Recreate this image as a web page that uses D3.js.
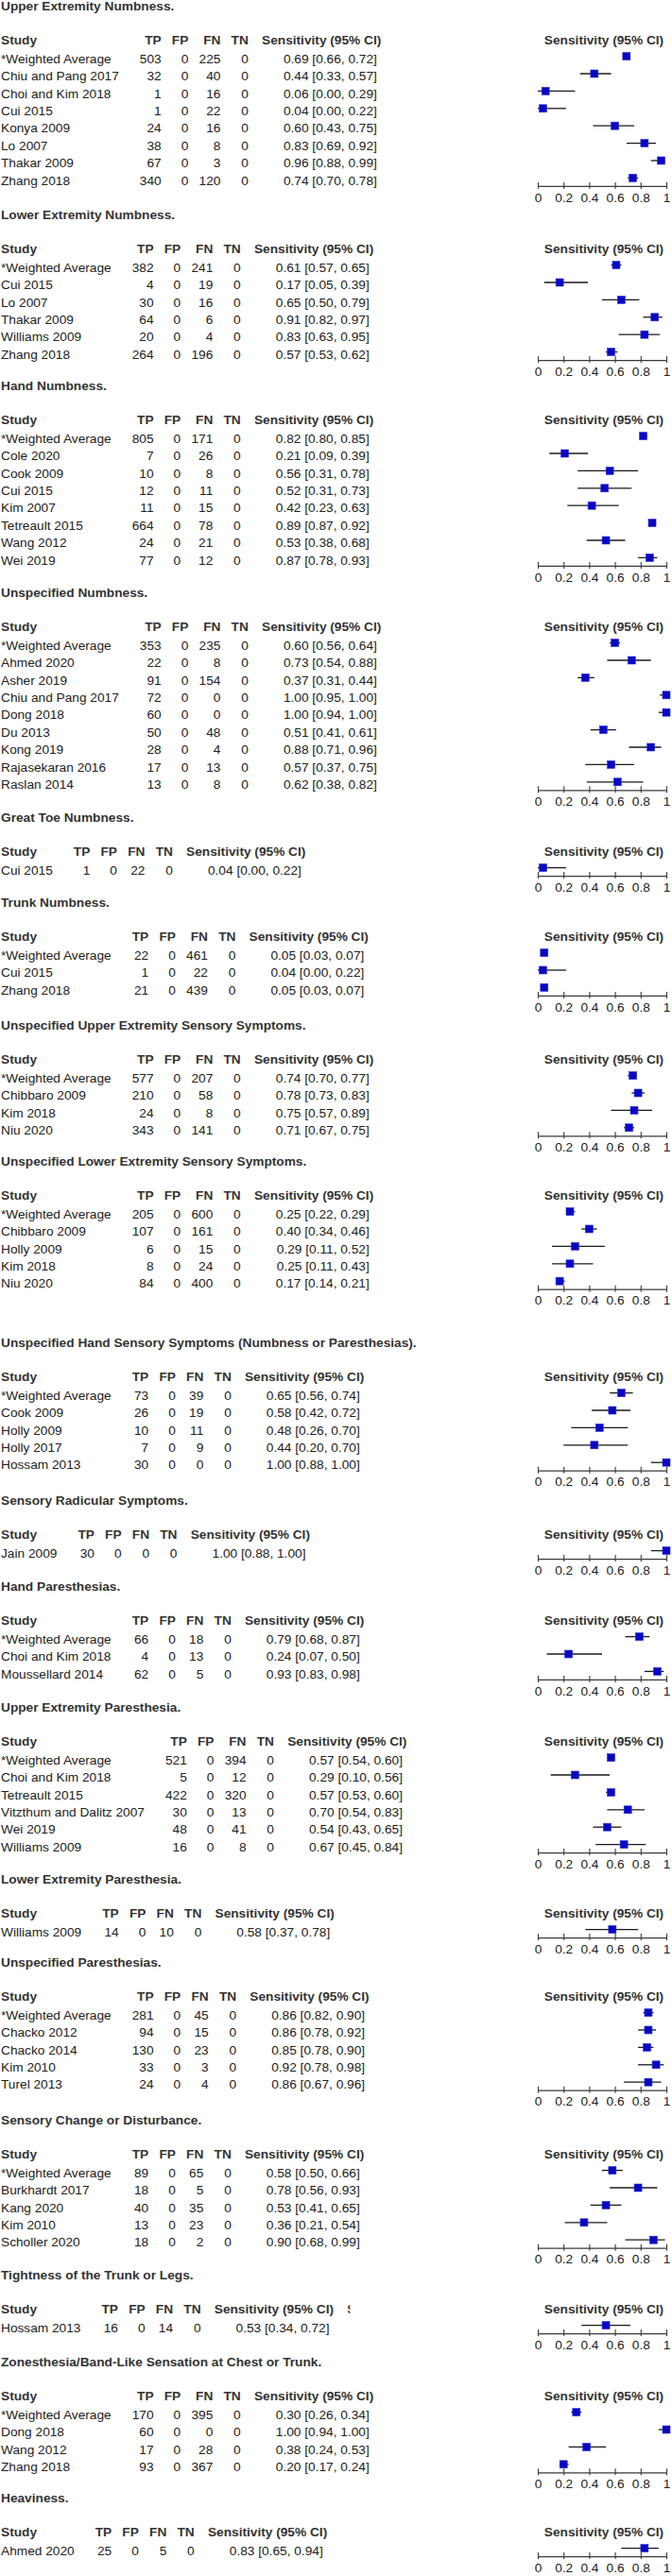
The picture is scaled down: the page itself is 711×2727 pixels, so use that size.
<!DOCTYPE html>
<html><head><meta charset="utf-8">
<script src="https://cdn.jsdelivr.net/npm/d3@7"></script>
<style>
html,body{margin:0;padding:0;background:#fff;}
svg text{font-family:"Liberation Sans",Arial,Helvetica,sans-serif;}
</style></head><body>
<svg id="chart" width="711" height="2727"></svg>
<script>
// ---------------- DATA ----------------
const panelTitles = [
  "Upper Extremity Numbness.",
  "Lower Extremity Numbness.",
  "Hand Numbness.",
  "Unspecified Numbness.",
  "Great Toe Numbness.",
  "Trunk Numbness.",
  "Unspecified Upper Extremity Sensory Symptoms.",
  "Unspecified Lower Extremity Sensory Symptoms.",
  "Unspecified Hand Sensory Symptoms (Numbness or Paresthesias).",
  "Sensory Radicular Symptoms.",
  "Hand Paresthesias.",
  "Upper Extremity Paresthesia.",
  "Lower Extremity Paresthesia.",
  "Unspecified Paresthesias.",
  "Sensory Change or Disturbance.",
  "Tightness of the Trunk or Legs.",
  "Zonesthesia/Band-Like Sensation at Chest or Trunk.",
  "Heaviness."
];
const panelSizes = [8, 6, 8, 9, 1, 3, 4, 5, 5, 1, 3, 6, 1, 5, 5, 1, 4, 1];

const studyNames = [
  "*Weighted Average","Chiu and Pang 2017","Choi and Kim 2018","Cui 2015","Konya 2009","Lo 2007","Thakar 2009","Zhang 2018",
  "*Weighted Average","Cui 2015","Lo 2007","Thakar 2009","Williams 2009","Zhang 2018",
  "*Weighted Average","Cole 2020","Cook 2009","Cui 2015","Kim 2007","Tetreault 2015","Wang 2012","Wei 2019",
  "*Weighted Average","Ahmed 2020","Asher 2019","Chiu and Pang 2017","Dong 2018","Du 2013","Kong 2019","Rajasekaran 2016","Raslan 2014",
  "Cui 2015",
  "*Weighted Average","Cui 2015","Zhang 2018",
  "*Weighted Average","Chibbaro 2009","Kim 2018","Niu 2020",
  "*Weighted Average","Chibbaro 2009","Holly 2009","Kim 2018","Niu 2020",
  "*Weighted Average","Cook 2009","Holly 2009","Holly 2017","Hossam 2013",
  "Jain 2009",
  "*Weighted Average","Choi and Kim 2018","Moussellard 2014",
  "*Weighted Average","Choi and Kim 2018","Tetreault 2015","Vitzthum and Dalitz 2007","Wei 2019","Williams 2009",
  "Williams 2009",
  "*Weighted Average","Chacko 2012","Chacko 2014","Kim 2010","Turel 2013",
  "*Weighted Average","Burkhardt 2017","Kang 2020","Kim 2010","Scholler 2020",
  "Hossam 2013",
  "*Weighted Average","Dong 2018","Wang 2012","Zhang 2018",
  "Ahmed 2020"
];
const tpValues = [
  503,32,1,1,24,38,67,340,
  382,4,30,64,20,264,
  805,7,10,12,11,664,24,77,
  353,22,91,72,60,50,28,17,13,
  1,
  22,1,21,
  577,210,24,343,
  205,107,6,8,84,
  73,26,10,7,30,
  30,
  66,4,62,
  521,5,422,30,48,16,
  14,
  281,94,130,33,24,
  89,18,40,13,18,
  16,
  170,60,17,93,
  25
];
const fpValues = tpValues.map(() => 0);
const fnValues = [
  225,40,16,22,16,8,3,120,
  241,19,16,6,4,196,
  171,26,8,11,15,78,21,12,
  235,8,154,0,0,48,4,13,8,
  22,
  461,22,439,
  207,58,8,141,
  600,161,15,24,400,
  39,19,11,9,0,
  0,
  18,13,5,
  394,12,320,13,41,8,
  10,
  45,15,23,3,4,
  65,5,35,23,2,
  14,
  395,0,28,367,
  5
];
const tnValues = tpValues.map(() => 0);
const sensValues = [
  0.69,0.44,0.06,0.04,0.60,0.83,0.96,0.74,
  0.61,0.17,0.65,0.91,0.83,0.57,
  0.82,0.21,0.56,0.52,0.42,0.89,0.53,0.87,
  0.60,0.73,0.37,1.00,1.00,0.51,0.88,0.57,0.62,
  0.04,
  0.05,0.04,0.05,
  0.74,0.78,0.75,0.71,
  0.25,0.40,0.29,0.25,0.17,
  0.65,0.58,0.48,0.44,1.00,
  1.00,
  0.79,0.24,0.93,
  0.57,0.29,0.57,0.70,0.54,0.67,
  0.58,
  0.86,0.86,0.85,0.92,0.86,
  0.58,0.78,0.53,0.36,0.90,
  0.53,
  0.30,1.00,0.38,0.20,
  0.83
];
const ciLower = [
  0.66,0.33,0.00,0.00,0.43,0.69,0.88,0.70,
  0.57,0.05,0.50,0.82,0.63,0.53,
  0.80,0.09,0.31,0.31,0.23,0.87,0.38,0.78,
  0.56,0.54,0.31,0.95,0.94,0.41,0.71,0.37,0.38,
  0.00,
  0.03,0.00,0.03,
  0.70,0.73,0.57,0.67,
  0.22,0.34,0.11,0.11,0.14,
  0.56,0.42,0.26,0.20,0.88,
  0.88,
  0.68,0.07,0.83,
  0.54,0.10,0.53,0.54,0.43,0.45,
  0.37,
  0.82,0.78,0.78,0.78,0.67,
  0.50,0.56,0.41,0.21,0.68,
  0.34,
  0.26,0.94,0.24,0.17,
  0.65
];
const ciUpper = [
  0.72,0.57,0.29,0.22,0.75,0.92,0.99,0.78,
  0.65,0.39,0.79,0.97,0.95,0.62,
  0.85,0.39,0.78,0.73,0.63,0.92,0.68,0.93,
  0.64,0.88,0.44,1.00,1.00,0.61,0.96,0.75,0.82,
  0.22,
  0.07,0.22,0.07,
  0.77,0.83,0.89,0.75,
  0.29,0.46,0.52,0.43,0.21,
  0.74,0.72,0.70,0.70,1.00,
  1.00,
  0.87,0.50,0.98,
  0.60,0.56,0.60,0.83,0.65,0.84,
  0.78,
  0.90,0.92,0.90,0.98,0.96,
  0.66,0.93,0.65,0.54,0.99,
  0.72,
  0.34,1.00,0.53,0.24,
  0.94
];
const tickValues = [0, 0.2, 0.4, 0.6, 0.8, 1];
const columnHeaders = ["TP", "FP", "FN", "TN"];
const sensHeader = "Sensitivity (95% CI)";
const truncatedHeaderText = "Specificity (95% CI)";
const truncatedHeaderPanel = 15;

// ---------------- LAYOUT ----------------
const panelTop = [6,227,408,627,865,955,1085,1229,1421,1588,1679,1807,1989,2077,2244,2408,2500,2644];
const FS = 13.7;
const HEADER_OFF = 36.7, FIRST_ROW = 19.4, ROW_H = 18.4;
const STUDY_GAP = 22, COL_GAP = 11.2, SENS_GAP = 14.2;
const BOX = 8;

const svg = d3.select("#chart");
const measure = svg.append("g").attr("visibility", "hidden");
function textW(s, bold) {
  const t = measure.append("text").attr("font-size", FS)
    .attr("font-weight", bold ? "bold" : "normal").text(s);
  const w = t.node().getComputedTextLength();
  t.remove();
  return w;
}

const x = d3.scaleLinear().domain([0, 1]).range([569, 705]);
const f2 = d3.format(".2f");
const columnData = [tpValues, fpValues, fnValues, tnValues];

let start = 0;
panelTitles.forEach((title, p) => {
  const idx = d3.range(start, start + panelSizes[p]);
  start += panelSizes[p];
  const top = panelTop[p];
  const g = svg.append("g");

  g.append("text").attr("x", 1).attr("y", top).attr("dy", "0.35em")
    .attr("font-size", FS).attr("font-weight", "bold").attr("fill", "#333").text(title);

  const hy = top + HEADER_OFF;
  const rowY = k => hy + FIRST_ROW + k * ROW_H;

  // column layout
  const studyW = Math.max(textW("Study", true), ...idx.map(i => textW(studyNames[i])));
  let r = 1 + studyW + STUDY_GAP - COL_GAP;
  const colR = columnHeaders.map((h, c) => {
    r += COL_GAP + Math.max(textW(h, true), ...idx.map(i => textW(String(columnData[c][i]))));
    return r;
  });
  const sensR = r + SENS_GAP + textW(sensHeader, true);

  // header
  const hdr = g.append("g").attr("font-size", FS).attr("font-weight", "bold").attr("fill", "#333");
  hdr.append("text").attr("x", 1).attr("y", hy).attr("dy", "0.35em").text("Study");
  columnHeaders.forEach((h, c) => {
    hdr.append("text").attr("x", colR[c]).attr("y", hy).attr("dy", "0.35em")
      .attr("text-anchor", "end").text(h);
  });
  hdr.append("text").attr("x", sensR).attr("y", hy).attr("dy", "0.35em")
    .attr("text-anchor", "end").text(sensHeader);
  hdr.append("text").attr("x", 639).attr("y", hy).attr("dy", "0.35em")
    .attr("text-anchor", "middle").text(sensHeader);

  if (p === truncatedHeaderPanel) {
    const cx = sensR + SENS_GAP;
    const cid = "clipTrunc" + p;
    svg.append("clipPath").attr("id", cid).append("rect")
      .attr("x", cx).attr("y", hy - 10).attr("width", 3.2).attr("height", 20);
    hdr.append("text").attr("x", cx).attr("y", hy).attr("dy", "0.35em")
      .attr("clip-path", `url(#${cid})`).text(truncatedHeaderText);
  }

  // rows
  const rows = g.append("g").attr("font-size", FS).attr("fill", "#222");
  idx.forEach((i, k) => {
    const y = rowY(k);
    rows.append("text").attr("x", 1).attr("y", y).attr("dy", "0.35em").text(studyNames[i]);
    columnData.forEach((arr, c) => {
      rows.append("text").attr("x", colR[c]).attr("y", y).attr("dy", "0.35em")
        .attr("text-anchor", "end").text(arr[i]);
    });
    rows.append("text").attr("x", sensR - 4.5).attr("y", y).attr("dy", "0.35em")
      .attr("text-anchor", "end")
      .text(`${f2(sensValues[i])} [${f2(ciLower[i])}, ${f2(ciUpper[i])}]`);

    const by = y - 2.5;
    g.append("line").attr("x1", x(ciLower[i])).attr("x2", x(ciUpper[i]))
      .attr("y1", by).attr("y2", by).attr("stroke", "#1a1a1a").attr("stroke-width", 1.3);
    g.append("rect").attr("x", x(sensValues[i]) - BOX / 2).attr("y", by - BOX / 2)
      .attr("width", BOX).attr("height", BOX)
      .attr("fill", "#0808c4").attr("stroke", "#2f2fd2").attr("stroke-width", 0.6);
  });

  // axis
  const axisY = rowY(idx.length - 1) + 6;
  const ax = g.append("g").attr("transform", `translate(0,${axisY})`)
    .call(d3.axisBottom(x).tickValues(tickValues).tickFormat(d3.format("~g"))
      .tickSizeInner(3).tickSizeOuter(0).tickPadding(3.9));
  ax.attr("font-size", FS).attr("color", "#3a3a3a");
  ax.select(".domain").attr("stroke-width", 1.2);
  ax.selectAll(".tick line").attr("y1", -4).attr("y2", 3).attr("stroke-width", 1.1);
  ax.selectAll(".tick text").attr("fill", "#222");
});
measure.remove();
</script>
</body></html>
